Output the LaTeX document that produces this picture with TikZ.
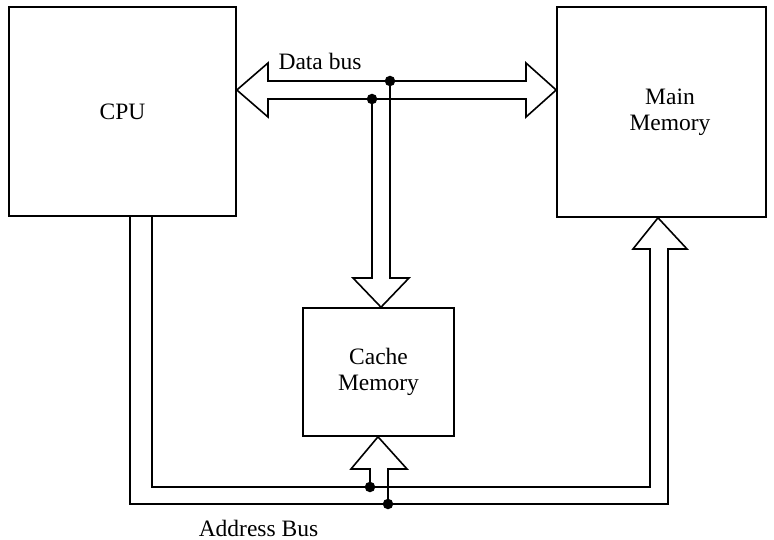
\documentclass[tikz,border=0pt]{standalone}
\usepackage{fontspec}
\setmainfont{Liberation Serif}
\begin{document}
\begin{tikzpicture}[x=1pt,y=-1pt,
  box/.style={draw, line width=1.6pt, inner sep=0pt, align=center},
  bus/.style={draw, line width=1.6pt, line join=miter},
  jdot/.style={fill, circle, inner sep=0pt, minimum size=10.5pt},
  lbl/.style={inner sep=0pt, align=center, font=\fontsize{23.5}{26}\selectfont}]
\useasboundingbox (0,0) rectangle (774,540);
% blocks
\node[box, lbl, minimum width=227pt, minimum height=209pt] (cpu) at (122.5,111.5) {CPU};
\node[box, minimum width=209pt, minimum height=210pt] (main) at (661.5,112) {};
\node[lbl] (maintext) at ([xshift=8.5pt]main.center) {Main\\Memory};
\node[box, lbl, minimum width=151pt, minimum height=128pt] (cache) at (378.5,372) {Cache\\Memory};
% junction coordinates
\coordinate (dup) at (390,81);
\coordinate (dlo) at (372,99);
\coordinate (ain) at (370,487);
\coordinate (aout) at (388,504);
% data bus (double-headed wide arrow)
\draw[bus] (cpu.east |- 0,90) -- (268,63) -- (268,81) -- (526,81) -- (526,63)
  -- (main.west |- 0,90) -- (526,117) -- (526,99) -- (268,99) -- (268,117) -- cycle;
% data bus to cache
\draw[bus] (dlo) -- (372,278) -- (353,278) -- (cache.north -| 381,0) -- (409,278) -- (390,278) -- (dup);
% address bus
\draw[bus] (cpu.south -| 130,0) -- (130,504) -- (668,504) -- (668,249) -- (687,249)
  -- (main.south -| 658,0) -- (633,249) -- (650,249) -- (650,487) -- (152,487) -- (cpu.south -| 152,0);
% address bus to cache
\draw[bus] (ain) -- (370,469) -- (351,469) -- (cache.south -| 378,0) -- (407,469) -- (388,469) -- (aout);
% junction dots
\foreach \p in {dup,dlo,ain,aout} \node[jdot] at (\p) {};
% labels
\node[lbl, anchor=base] (datalbl) at (320,70) {Data bus};
\node[lbl, anchor=base] (addrlbl) at (258.5,536) {Address Bus};
\end{tikzpicture}
\end{document}
